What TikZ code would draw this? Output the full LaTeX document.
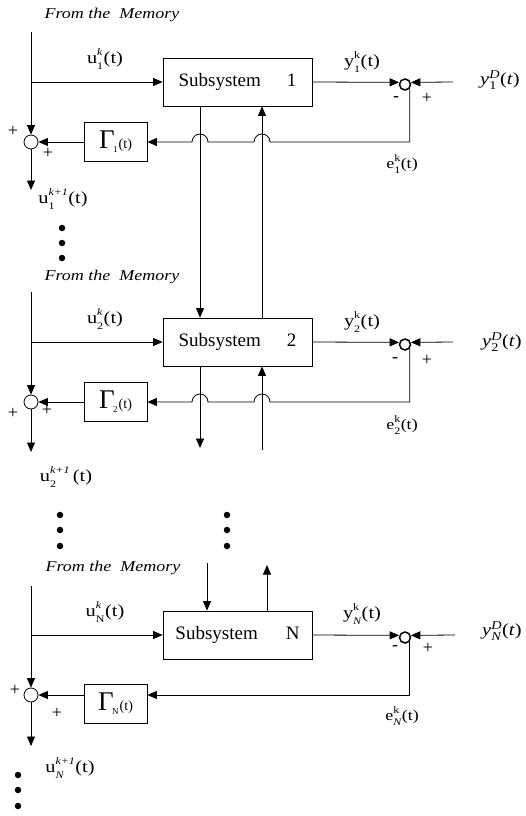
\documentclass[tikz,border=0pt]{standalone}
\usepackage{amsmath}
\usepackage{fontspec}
\setmainfont{Liberation Serif}
\newfontfamily\wf[FakeStretch=1.2]{Liberation Serif}
\usetikzlibrary{arrows.meta}
\tikzset{
 arr/.style={-{Triangle[length=9.5pt,width=8pt]}},
 subbox/.style={draw, minimum width=149pt, minimum height=48pt, inner sep=0pt, font=\fontsize{19}{19}\selectfont},
 gbox/.style={draw, minimum width=63pt, minimum height=39pt, inner sep=0pt},
 sumL/.style={draw, circle, minimum size=14pt, inner sep=0pt},
 sumR/.style={draw, circle, line width=1.5pt, minimum size=11pt, inner sep=0pt},
 mem/.style={font=\wf\fontsize{15}{15}\selectfont\itshape, inner sep=0pt},
 lbl/.style={font=\wf\fontsize{17}{17}\selectfont, inner sep=0pt},
 elbl/.style={font=\wf\fontsize{15}{15}\selectfont, inner sep=0pt},
 sgn/.style={font=\fontsize{18}{18}\selectfont, inner sep=0pt},
 bigdot/.style={circle, fill, minimum size=6.5pt, inner sep=0pt},
}
\newcommand\gam[1]{{\fontsize{27}{27}\selectfont Γ}\kern-1.5pt\raisebox{-4pt}{\fontsize{9}{9}\selectfont #1}\kern1pt{\fontsize{14}{14}\selectfont(t)}}
\newcommand\ulab[3]{#1$^{\raisebox{2pt}{\fontsize{10}{10}\selectfont #2}}_{\raisebox{-2pt}{\fontsize{10}{10}\selectfont #3}}$}
\begin{document}
\begin{tikzpicture}[x=1pt,y=1pt,line width=0.8pt]
\useasboundingbox (0,0) rectangle (525,-816);

% ---------- Block 1 ----------
\node[mem] (m1) at (112,-15) {From the\ \ Memory};
\coordinate (t1) at (31,-32);
\coordinate (b1) at (31,-82);
\node[subbox] (S1) at (237.5,-82) {Subsystem\hspace{26pt}1};
\node[sumL] (L1) at (31,-142) {};
\node[gbox] (G1) at (115.5,-142) {\gam{1}};
\node[sumR] (R1) at (405,-84.5) {};
\coordinate (yd1) at (453,-82);
\coordinate (o1) at (31,-190);
\draw[arr] (t1) -- (L1.north);
\draw[arr] (b1) -- (S1.west);
\draw[arr] (S1.east) -- (R1.160);
\draw[arr] (yd1) -- (R1.20);
\draw[arr] (R1.-40) |- (270,-142) arc[start angle=0,end angle=180,radius=8] -- (208,-142) arc[start angle=0,end angle=180,radius=8] -- (G1.east);
\draw[arr] (G1.west) -- (L1.east);
\draw[arr] (L1.south) -- (o1);
\node[lbl] (lu1) at (105,-59) {\ulab{u}{\itshape k}{1}(t)};
\node[lbl] (ly1) at (362,-62) {\ulab{y}{k}{1}(t)};
\node[lbl] (lyd1) at (500,-80) {\textit{y}$^{\textit{D}}_{\text{1}}$(\textit{t})};
\node[elbl] (le1) at (402,-164) {\ulab{e}{k}{1}(t)};
\node[lbl] (lun1) at (63,-199) {\ulab{u}{\itshape k+1}{1}(t)};
\node[sgn] at (396,-99) {-};
\node[sgn] at (427,-98) {+};
\node[sgn] at (13,-131) {+};
\node[sgn] at (48,-153) {+};
\node[bigdot] at (62,-228) {};
\node[bigdot] at (62,-243) {};
\node[bigdot] at (62,-258) {};

% ---------- Block 2 ----------
\node[mem] (m2) at (112,-277) {From the\ \ Memory};
\coordinate (t2) at (31,-292);
\coordinate (b2) at (31,-342);
\node[subbox] (S2) at (237.5,-342) {Subsystem\hspace{26pt}2};
\node[sumL] (L2) at (31,-402) {};
\node[gbox] (G2) at (115.5,-402) {\gam{2}};
\node[sumR] (R2) at (405,-344.5) {};
\coordinate (yd2) at (453,-342);
\coordinate (o2) at (31,-452);
\draw[arr] (t2) -- (L2.north);
\draw[arr] (b2) -- (S2.west);
\draw[arr] (S2.east) -- (R2.160);
\draw[arr] (yd2) -- (R2.20);
\draw[arr] (R2.-40) |- (270,-402) arc[start angle=0,end angle=180,radius=8] -- (208,-402) arc[start angle=0,end angle=180,radius=8] -- (G2.east);
\draw[arr] (G2.west) -- (L2.east);
\draw[arr] (L2.south) -- (o2);
\node[lbl] (lu2) at (105,-319) {\ulab{u}{\itshape k}{2}(t)};
\node[lbl] (ly2) at (362,-322) {\ulab{y}{k}{2}(t)};
\node[lbl] (lyd2) at (502,-342) {\textit{y}$^{\textit{D}}_{\text{2}}$(\textit{t})};
\node[elbl] (le2) at (402,-425) {\ulab{e}{k}{2}(t)};
\node[lbl] (lun2) at (66,-477) {\ulab{u}{\itshape k+1}{2}\,(t)};
\node[sgn] at (395,-360) {-};
\node[sgn] at (427,-360) {+};
\node[sgn] at (13,-413) {+};
\node[sgn] at (47,-410) {+};
\foreach \yy in {515,530,546}{
  \node[bigdot] at (60,-\yy) {};
  \node[bigdot] at (227,-\yy) {};
}

% ---------- Block N ----------
\node[mem] (mN) at (113,-568) {From the\ \ Memory};
\coordinate (tN) at (31,-586);
\coordinate (bN) at (31,-635);
\node[subbox] (SN) at (237.5,-635) {Subsystem\hspace{28pt}N};
\node[sumL] (LN) at (31,-695) {};
\node[gbox] (GN) at (115.5,-704) {\gam{N}};
\node[sumR] (RN) at (405,-637.5) {};
\coordinate (ydN) at (455,-635);
\coordinate (oN) at (31,-746);
\draw[arr] (tN) -- (LN.north);
\draw[arr] (bN) -- (SN.west);
\draw[arr] (SN.east) -- (RN.160);
\draw[arr] (ydN) -- (RN.20);
\draw[arr] (RN.-40) |- (GN.east |- LN);
\draw[arr] (GN.west |- LN) -- (LN.east);
\draw[arr] (LN.south) -- (oN);
\node[lbl] (luN) at (105,-612) {\ulab{u}{\itshape k}{N}(t)};
\node[lbl] (lyN) at (362,-614) {\ulab{y}{k}{\itshape N}(t)};
\node[lbl] (lydN) at (502,-631) {\textit{y}$^{\textit{D}}_{\textit{N}}$(\textit{t})};
\node[elbl] (leN) at (402,-716) {\ulab{e}{k}{\itshape N}(t)};
\node[lbl] (lunN) at (70,-768) {\ulab{u}{\itshape k+1}{\itshape N}(t)};
\node[sgn] at (395,-648) {-};
\node[sgn] at (428,-648) {+};
\node[sgn] at (15,-690) {+};
\node[sgn] at (57,-713) {+};
\node[bigdot] at (18,-775) {};
\node[bigdot] at (18,-790) {};
\node[bigdot] at (18,-806) {};

% ---------- interconnections ----------
\coordinate (c1) at (200,0);
\coordinate (c2) at (262,0);
\coordinate (d1) at (200,-448);
\coordinate (d2) at (262,-450);
\coordinate (c3) at (207,0);
\coordinate (c4) at (267,0);
\coordinate (d3) at (207,-563);
\coordinate (d4) at (267,-565);
\draw[arr] (S1.south -| c1) -- (S2.north -| c1);
\draw[arr] (S2.north -| c2) -- (S1.south -| c2);
\draw[arr] (S2.south -| c1) -- (d1);
\draw[arr] (d2) -- (S2.south -| c2);
\draw[arr] (d3) -- (SN.north -| c3);
\draw[arr] (SN.north -| c4) -- (d4);
\end{tikzpicture}
\end{document}
